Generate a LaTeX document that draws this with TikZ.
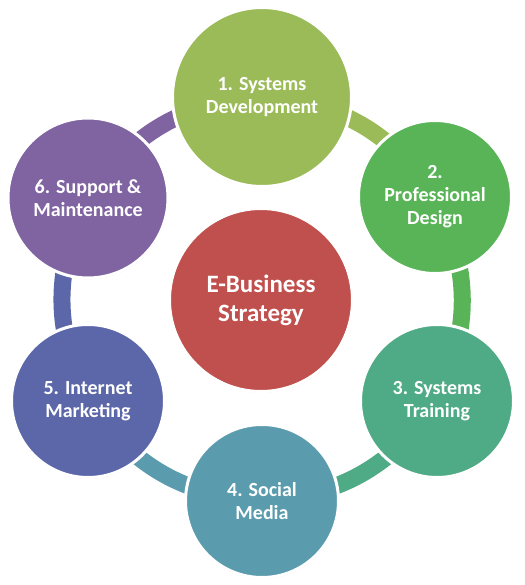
\documentclass[tikz,border=0pt]{standalone}
\usepackage{fontspec}
\setmainfont{Carlito}
\usetikzlibrary{shadows,backgrounds}
\begin{document}
\begin{tikzpicture}[x=1pt,y=1pt,
  stage/.style={circle,draw=white,line width=3pt,text=white,align=center,inner sep=0pt,
    font=\bfseries\fontsize{20}{23}\selectfont,minimum size=153pt,
    drop shadow={shadow xshift=0.6pt,shadow yshift=-1.2pt,opacity=0.3}},
  band/.style={line width=17pt}]
\definecolor{g1}{RGB}{155,187,89}
\definecolor{g2}{RGB}{88,180,86}
\definecolor{g3}{RGB}{79,170,134}
\definecolor{g4}{RGB}{90,156,174}
\definecolor{g5}{RGB}{91,103,168}
\definecolor{g6}{RGB}{128,100,162}
\definecolor{g0}{RGB}{192,80,77}

\useasboundingbox (-262,-285) rectangle (262,300);

\node[stage,fill=g1,minimum size=179pt] (dev) at (0,203) {1. Systems\\Development};
\node[stage,fill=g2] (design) at (173,103) {2.\\Professional\\Design};
\node[stage,fill=g3] (train) at (175,-101) {3. Systems\\Training};
\node[stage,fill=g4] (media) at (0,-201) {4. Social\\Media};
\node[stage,fill=g5] (market) at (-174,-101) {5. Internet\\Marketing};
\node[stage,fill=g6,minimum size=160pt] (support) at (-174,102) {6. Support \&\\Maintenance};
\node[stage,fill=g0,minimum size=183pt,font=\bfseries\fontsize{25}{29}\selectfont] (core) at (-1,0) {E-Business\\Strategy};

\begin{scope}[on background layer]
\draw[band,g1] (dev.center) to[bend left=26] (design.center);
\draw[band,g2] (design.center) to[bend left=26] (train.center);
\draw[band,g3] (train.center) to[bend left=26] (media.center);
\draw[band,g4] (media.center) to[bend left=26] (market.center);
\draw[band,g5] (market.center) to[bend left=26] (support.center);
\draw[band,g6] (support.center) to[bend left=26] (dev.center);
\end{scope}
\end{tikzpicture}
\end{document}
